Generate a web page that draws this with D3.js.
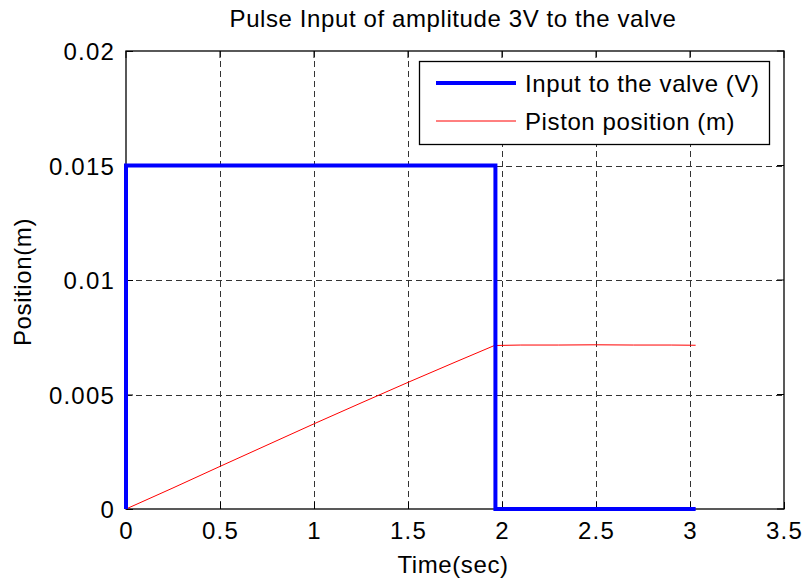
<!DOCTYPE html>
<html>
<head>
<meta charset="utf-8">
<script src="https://cdn.jsdelivr.net/npm/d3@7"></script>
<style>
  html, body { margin: 0; padding: 0; background: #fff; }
  svg { display: block; font-family: "Liberation Sans", Arial, sans-serif; }
</style>
</head>
<body>
<svg id="chart" width="806" height="582"></svg>
<script>
// Pulse input (scaled) and resulting piston position
const inputTime  = [0, 0, 1.965, 1.965, 3.03];
const inputValue = [0, 0.015, 0.015, 0, 0];

const pistonTime  = [0, 0.25, 0.5, 0.75, 1.0, 1.25, 1.5, 1.75, 1.96, 2.1, 2.3, 2.5, 2.7, 2.9, 3.03];
const pistonValue = [0, 0.00092, 0.00186, 0.00279, 0.00372, 0.00463, 0.00553, 0.00641, 0.00714, 0.00716, 0.00716, 0.00717, 0.00716, 0.00716, 0.00715];

const xTicks = [0, 0.5, 1, 1.5, 2, 2.5, 3, 3.5];
const yTicks = [0, 0.005, 0.01, 0.015, 0.02];
const yTickLabels = ["0", "0.005", "0.01", "0.015", "0.02"];

const titleText = "Pulse Input of amplitude 3V to the valve";
const xLabel = "Time(sec)";
const yLabel = "Position(m)";
const legendLabels = ["Input to the valve (V)", "Piston position (m)"];

const svg = d3.select("#chart");
const plotL = 126, plotR = 784, plotT = 51, plotB = 509;
const fontSize = 24, spacing = 0.6;

const x = d3.scaleLinear().domain([0, 3.5]).range([plotL, plotR]);
const y = d3.scaleLinear().domain([0, 0.02]).range([plotB, plotT]);

// dashed grid
const grid = svg.append("g").attr("stroke", "#333").attr("stroke-width", 1)
  .attr("stroke-dasharray", "6,4").attr("shape-rendering", "crispEdges");
grid.selectAll(".gx").data(xTicks.slice(1, -1)).join("line").attr("class", "gx")
  .attr("x1", d => Math.round(x(d)) + 0.5).attr("x2", d => Math.round(x(d)) + 0.5)
  .attr("y1", plotT).attr("y2", plotB);
grid.selectAll(".gy").data(yTicks.slice(1, -1)).join("line").attr("class", "gy")
  .attr("y1", d => Math.round(y(d)) + 0.5).attr("y2", d => Math.round(y(d)) + 0.5)
  .attr("x1", plotL).attr("x2", plotR);

// axes with inward ticks
const xAxis = d3.axisBottom(x).tickValues(xTicks).tickSize(-7).tickPadding(12).tickFormat(d3.format("~g"));
const yAxis = d3.axisLeft(y).tickValues(yTicks).tickSize(-7).tickPadding(11)
  .tickFormat((d, i) => yTickLabels[i]);

const gx = svg.append("g").attr("transform", `translate(0,${plotB})`).call(xAxis);
const gy = svg.append("g").attr("transform", `translate(${plotL},0)`).call(yAxis);
[gx, gy].forEach(g => {
  g.select(".domain").remove();
  g.selectAll("text").attr("font-size", fontSize).attr("fill", "#000")
    .attr("letter-spacing", 1.2)
    .attr("font-family", "Liberation Sans, Arial, sans-serif");
  g.selectAll("line").attr("stroke", "#000");
});
gy.selectAll("text").attr("dy", "0.36em");
gx.selectAll("text").attr("dy", "0.76em");

// opposite-side ticks
svg.append("g").selectAll("line").data(xTicks).join("line")
  .attr("x1", d => x(d)).attr("x2", d => x(d)).attr("y1", plotT).attr("y2", plotT + 7).attr("stroke", "#000");
svg.append("g").selectAll("line").data(yTicks).join("line")
  .attr("y1", d => y(d)).attr("y2", d => y(d)).attr("x1", plotR).attr("x2", plotR - 7).attr("stroke", "#000");

// axes box
svg.append("rect").attr("x", plotL).attr("y", plotT).attr("width", plotR - plotL).attr("height", plotB - plotT)
  .attr("fill", "none").attr("stroke", "#000").attr("stroke-width", 1.3);

// series
const line = d3.line().x(d => x(d[0])).y(d => y(d[1]));
svg.append("path").datum(d3.zip(pistonTime, pistonValue))
  .attr("d", line).attr("fill", "none").attr("stroke", "#ff0000").attr("stroke-width", 1);
svg.append("path").datum(d3.zip(inputTime, inputValue))
  .attr("d", line).attr("fill", "none").attr("stroke", "#0000ff").attr("stroke-width", 4)
  .attr("stroke-linejoin", "miter");

// title and axis labels
svg.append("text").attr("x", 453).attr("y", 27).attr("text-anchor", "middle")
  .attr("font-size", fontSize).attr("letter-spacing", spacing).text(titleText);
svg.append("text").attr("x", 453).attr("y", 573).attr("text-anchor", "middle")
  .attr("font-size", fontSize).attr("letter-spacing", spacing).text(xLabel);
svg.append("text").attr("transform", `translate(31,${(plotT + plotB) / 2 + 2}) rotate(-90)`)
  .attr("text-anchor", "middle").attr("font-size", fontSize).attr("letter-spacing", spacing).text(yLabel);

// legend
const lg = svg.append("g");
lg.append("rect").attr("x", 419.5).attr("y", 61.5).attr("width", 350).attr("height", 83)
  .attr("fill", "#fff").attr("stroke", "#000").attr("stroke-width", 1.3);
const legendColors = ["#0000ff", "#ff0000"];
const legendWidths = [4, 1];
const legendY = [83, 121];
legendLabels.forEach((t, i) => {
  lg.append("line").attr("x1", 436).attr("x2", 516).attr("y1", legendY[i]).attr("y2", legendY[i])
    .attr("stroke", legendColors[i]).attr("stroke-width", legendWidths[i]);
  lg.append("text").attr("x", 525).attr("y", legendY[i]).attr("dy", "0.36em")
    .attr("font-size", fontSize).attr("letter-spacing", spacing).text(t);
});
</script>
</body>
</html>
